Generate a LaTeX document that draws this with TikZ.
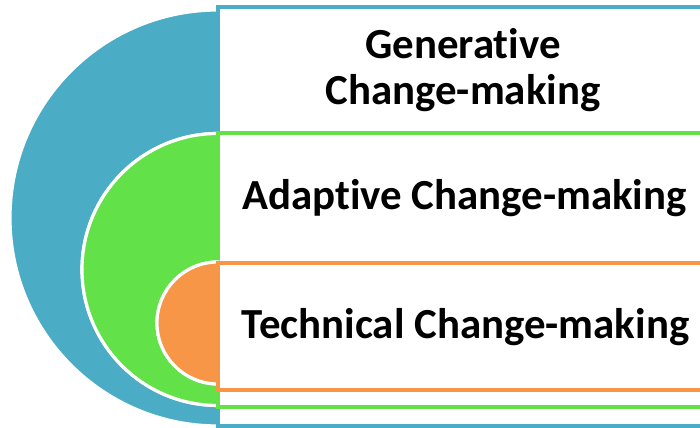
\documentclass[tikz,border=0pt]{standalone}
\usepackage{fontspec}
\setmainfont{Carlito}[Ligatures=NoCommon]
\usepackage{tikz}
\definecolor{capblue}{RGB}{75,172,198}
\definecolor{capgreen}{RGB}{98,225,72}
\definecolor{caporange}{RGB}{247,150,70}

\begin{document}
\begin{tikzpicture}[
  band/.style={draw=#1, line width=1.2pt, fill=white, rectangle,
    inner sep=0pt, outer sep=0pt, anchor=south west},
  disc/.style={fill=#1, draw=white, line width=0.9pt},
  lbl/.style={font=\fontsize{12.2}{13.1}\selectfont\bfseries, align=center, anchor=base}]

\useasboundingbox (0,0) rectangle (7,4.28);
\clip (0,0) rectangle (7,4.28);

% Half discs and bands
\foreach \n/\c/\y/\r/\b/\h in {gen/capblue/2.10/2.08/0.02/4.19,
                                ada/capgreen/1.585/1.36/0.21/2.74,
                                tech/caporange/1.05/0.61/0.38/1.27}
{
    \fill[disc=\c] (2.18,\y) ++(0,\r) arc[start angle=90, end angle=270, radius=\r] -- cycle;
    \draw[disc=\c] (2.18,\y) ++(0,\r) arc[start angle=90, end angle=270, radius=\r];
    \node[band=\c, minimum width=5.2cm, minimum height=\h cm] (\n band) at (2.18,\b) {};
}

% Labels
\node[lbl] (gen) at (4.63,3.23) {Generative\\Change-making};
\node[lbl] (ada) at (4.645,2.18) {Adaptive Change-making};
\node[lbl] (tech) at (4.655,0.89) {Technical Change-making};

\end{tikzpicture}
\end{document}
